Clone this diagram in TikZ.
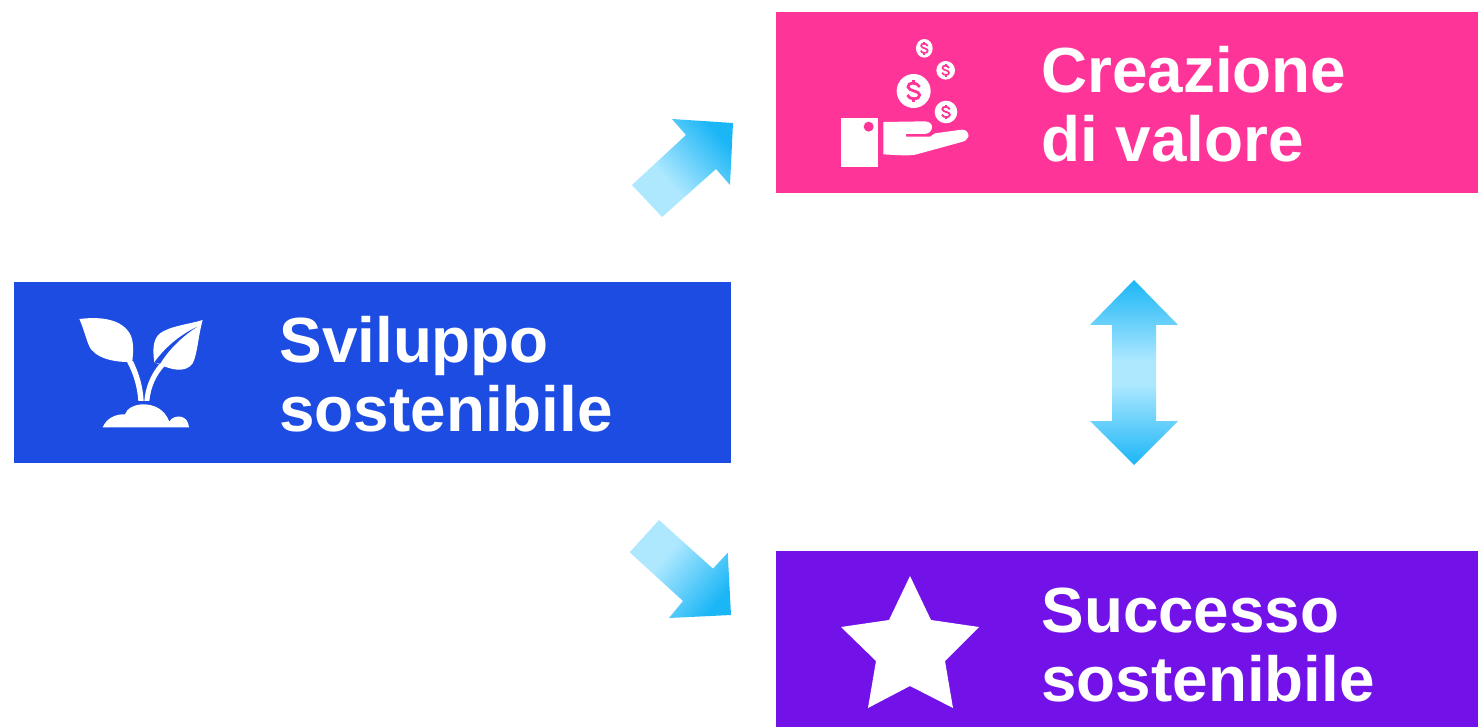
\documentclass[tikz,border=0pt]{standalone}
\usepackage{fontspec}
\setmainfont{Liberation Sans}
\definecolor{bluebox}{HTML}{1D4CE2}
\definecolor{pinkbox}{HTML}{FF3498}
\definecolor{purplebox}{HTML}{7212E9}
\definecolor{arrowlt}{HTML}{AEE8FF}
\definecolor{arrowdk}{HTML}{1BB6F6}
\pgfdeclarehorizontalshading{diagshade}{100bp}{color(0bp)=(arrowlt); color(25bp)=(arrowlt); color(40bp)=(arrowlt); color(75bp)=(arrowdk); color(100bp)=(arrowdk)}
\pgfdeclareverticalshading{vertshade}{100bp}{color(0bp)=(arrowdk); color(25bp)=(arrowdk); color(47bp)=(arrowlt); color(53bp)=(arrowlt); color(75bp)=(arrowdk); color(100bp)=(arrowdk)}
\tikzset{
  x=0.5pt,y=-0.5pt,
  label/.style={text=white,inner sep=0pt,outer sep=0pt,align=left,anchor=base west,
    font=\fontsize{31.9}{34.5}\selectfont\bfseries},
  icon/.style={fill=white,draw=none},
  pics/dollar/.style n args={3}{code={
    \begin{scope}[xscale=#1,yscale=#2]
      \draw[#3,line cap=butt] (0.72,-0.42) .. controls (0.45,-0.95) and (-0.75,-0.95) .. (-0.68,-0.42)
        .. controls (-0.6,0.05) and (0.72,-0.05) .. (0.72,0.42)
        .. controls (0.72,0.95) and (-0.55,0.95) .. (-0.76,0.42);
      \draw[#3,line cap=butt] (0,-1.1) -- (0,-0.72) (0,0.72) -- (0,1.1);
    \end{scope}}}
}
\begin{document}
\begin{tikzpicture}
\useasboundingbox (0,0) rectangle (1478,727);
\fill[white] (0,0) rectangle (1478,727);
% boxes
\fill[bluebox] (14,282) rectangle (731,463);
\fill[pinkbox] (776,12) rectangle (1478,193);
\fill[purplebox] (776,551) rectangle (1478,727);
\node[label] (dev) at (279.5,431) {Sviluppo\\sostenibile};
\node[label] (val) at (1041.5,162) {Creazione\\di valore};
\node[label] (suc) at (1041.5,701) {Successo\\sostenibile};
% block arrows
\path[shading=diagshade,shading angle=42] (632,185) -- (662,217) -- (716,169) -- (730,185) -- (733,123) -- (672,119) -- (686,135) -- cycle;
\path[shading=diagshade,shading angle=-40] (659,520) -- (629.7,552.3) -- (683,601) -- (669,618) -- (731,615) -- (727.7,552.7) -- (713,568.7) -- cycle;
\path[shading=vertshade] (1134,280) -- (1178,325) -- (1156,325) -- (1156,421) -- (1178,421) -- (1134,465) -- (1090,421) -- (1112,421) -- (1112,325) -- (1090,325) -- cycle;
% star
\fill[white] (910,576) -- (931,620) -- (979,627) -- (945,661) -- (953,708) -- (910,686) -- (868,708) -- (876,661) -- (841,627) -- (889,620) -- cycle;
% coins and hand
\begin{scope}[shift={(820,20)},scale=1/3]
  \fill[white] (62,293) rectangle (174,441);
  \fill[pinkbox] (146,320) circle[radius=15];
  \path[icon] (190,306) -- (315,304) .. controls (330,304) and (338,315) .. (336,324) .. controls (333,336) and (325,342) .. (312,342) -- (258,342) -- (258,350) -- (330,350) -- (345,340) -- (425,329) .. controls (440,328) and (447,340) .. (445,350) .. controls (443,358) and (435,364) .. (425,366) -- (290,403) .. controls (270,408) and (240,406) .. (190,403) -- cycle;
  \fill[white] (281,213) circle[radius=51];
  \fill[white] (313,85) ellipse[x radius=25,y radius=28];
  \fill[white] (377,151) circle[radius=28];
  \fill[white] (378,276) circle[radius=34];
  \pic[transform shape] at (281,213) {dollar={25}{29}{pinkbox,line width=1.4pt}};
  \pic[transform shape] at (313,85) {dollar={14}{17}{pinkbox,line width=0.85pt}};
  \pic[transform shape] at (377,151) {dollar={14}{17}{pinkbox,line width=0.85pt}};
  \pic[transform shape] at (378,276) {dollar={16}{19}{pinkbox,line width=0.95pt}};
\end{scope}
% plant
\begin{scope}[shift={(60,300)},scale=1/3]
  \path[icon] (58,57) .. controls (100,52) and (165,50) .. (200,88) .. controls (224,112) and (220,150) .. (217,185) .. controls (185,188) and (122,183) .. (93,148) .. controls (80,128) and (75,95) .. (58,57) -- cycle;
  \path[icon] (219,183) .. controls (237,220) and (249,260) .. (251,303) -- (235,303) .. controls (232,260) and (220,220) .. (200,184) -- cycle;
  \path[icon] (428,60) .. controls (390,72) and (330,78) .. (300,100) .. controls (278,118) and (278,150) .. (283,187) -- (302,195) .. controls (330,207) and (375,222) .. (398,190) .. controls (412,165) and (415,105) .. (428,60) -- cycle;
  \fill[bluebox] (283,187) .. controls (310,150) and (350,110) .. (412,80) .. controls (365,110) and (325,150) .. (300,192) -- cycle;
  \path[icon] (300,190) .. controls (270,225) and (256,265) .. (253,303) -- (268,303) .. controls (272,265) and (285,230) .. (314,198) -- cycle;
  \path[icon] (128,382) .. controls (140,355) and (165,342) .. (195,343) .. controls (200,325) and (225,313) .. (250,313) .. controls (285,313) and (315,330) .. (328,365) .. controls (335,352) and (350,348) .. (362,350) .. controls (378,353) and (385,365) .. (387,382) -- cycle;
\end{scope}
\end{tikzpicture}
\end{document}
